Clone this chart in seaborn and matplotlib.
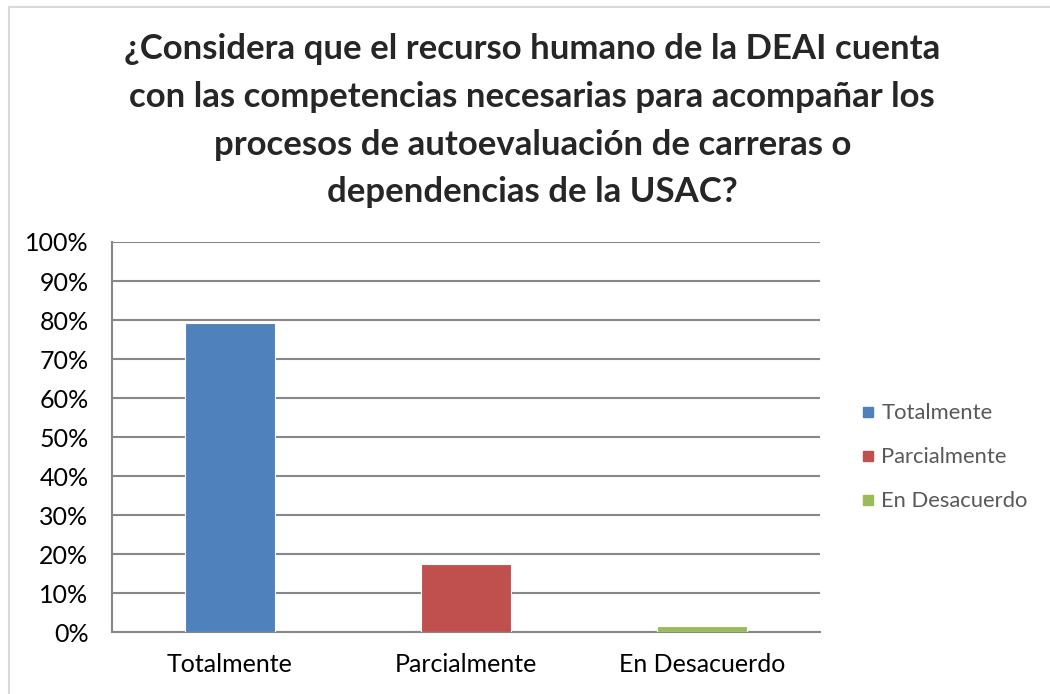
import pandas as pd
import matplotlib.pyplot as plt
from matplotlib.lines import Line2D
from matplotlib.ticker import PercentFormatter
import seaborn as sns

# data
categories = ["Totalmente", "Parcialmente", "En Desacuerdo"]
percentages = [79.3, 17.4, 1.5]
bar_colors = ["#4F81BD", "#C0504D", "#9BBB59"]
y_ticks = list(range(0, 101, 10))

title = ("¿Considera que el recurso humano de la DEAI cuenta\n"
         "con las competencias necesarias para acompañar los\n"
         "procesos de autoevaluación de carreras o\n"
         "dependencias de la USAC?")

sns.set_style("white")
plt.rcParams["font.family"] = ["Lato", "DejaVu Sans"]

df = pd.DataFrame({"Respuesta": categories, "Porcentaje": percentages})

fig = plt.figure(figsize=(10.5, 6.94), dpi=100)
ax = fig.add_axes([0.1067, 0.0893, 0.6743, 0.5620])

sns.barplot(data=df, x="Respuesta", y="Porcentaje", hue="Respuesta",
            palette=bar_colors, saturation=1, width=0.38, legend=False, ax=ax,
            edgecolor="white", linewidth=0.8, zorder=3)

ax.set_ylim(0, 100)
ax.set_xlim(-0.5, 2.5)
ax.set_yticks(y_ticks)
ax.yaxis.set_major_formatter(PercentFormatter(decimals=0))
ax.grid(True, axis="y", color="#878787", linewidth=1.5, zorder=0)
ax.set_axisbelow(True)
ax.set_xlabel("")
ax.set_ylabel("")
ax.tick_params(axis="both", length=0, labelsize=18, colors="black")
ax.tick_params(axis="x", pad=15)
ax.tick_params(axis="y", pad=17)
for side in ["top", "right"]:
    ax.spines[side].set_visible(False)
for side in ["left", "bottom"]:
    ax.spines[side].set_color("#878787")
    ax.spines[side].set_linewidth(1.5)

handles = [Line2D([0], [0], marker="s", linestyle="", markersize=7,
                  markerfacecolor=c, markeredgecolor=c) for c in bar_colors]
fig.legend(handles, categories, loc="center left", bbox_to_anchor=(0.797, 0.341),
           frameon=False, fontsize=15.8, labelcolor="#595959",
           handletextpad=0.12, labelspacing=1.1, handlelength=1.0)

fig.text(0.507, 0.826, title, ha="center", va="center", fontsize=25,
         fontweight="bold", linespacing=1.6)

# light frame around the chart area
fig.add_artist(Line2D([9 / 1050, 1.0], [1 - 7 / 694, 1 - 7 / 694],
                      color="#D9D9D9", linewidth=1.5, transform=fig.transFigure))
fig.add_artist(Line2D([9 / 1050, 9 / 1050], [0.0, 1 - 7 / 694],
                      color="#D9D9D9", linewidth=1.5, transform=fig.transFigure))

fig.savefig("out.png", dpi=100)
